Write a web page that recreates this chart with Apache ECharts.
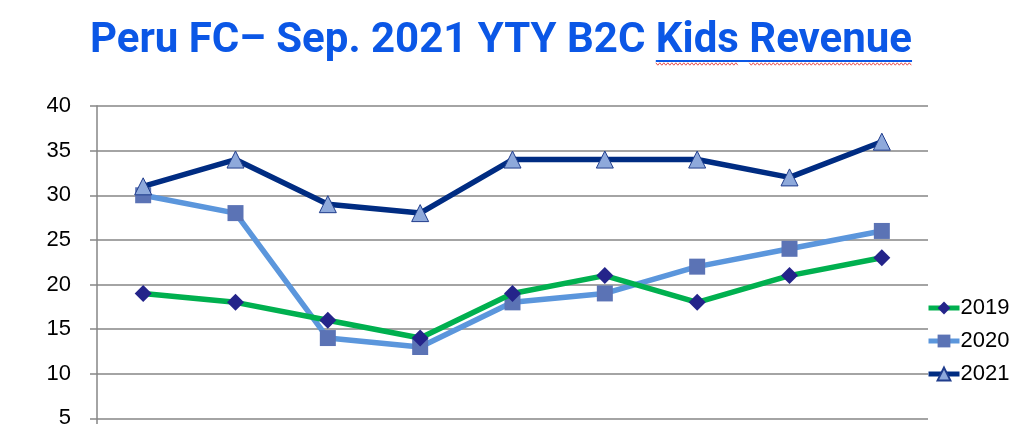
<!DOCTYPE html>
<html><head><meta charset="utf-8">
<script src="https://cdn.jsdelivr.net/npm/echarts@6/dist/echarts.min.js"></script>
<style>html,body{margin:0;padding:0;overflow:hidden;background:#fff;width:1023px;height:424px}#c{width:1023px;height:500px}</style>
</head><body><div id="c"></div>
<script>
var categories = ['Jan','Feb','Mar','Apr','May','Jun','Jul','Aug','Sep'];
var s2019 = [19, 18, 16, 14, 19, 21, 18, 21, 23];
var s2020 = [30, 28, 14, 13, 18, 19, 22, 24, 26];
var s2021 = [31, 34, 29, 28, 34, 34, 34, 32, 36];
var titlePrefix = 'Peru FC\u2013 Sep. 2021 YTY B2C ';
var titleWords = ['Kids', 'Revenue'];
var titleText = titlePrefix + titleWords.join(' ');

var titleFont = 'bold 42px Roboto';
var cv = document.createElement('canvas').getContext('2d');
cv.font = titleFont;
var fullW = cv.measureText(titleText).width;
var x0 = 501 - fullW / 2;
var kStart = x0 + cv.measureText(titlePrefix).width;
var kEnd = kStart + cv.measureText(titleWords[0]).width;
var rStart = x0 + cv.measureText(titlePrefix + titleWords[0] + ' ').width;
var xEnd = x0 + fullW;
var ulY = 61;
function wavy(a, b, y) {
  var pts = [], i = 0;
  for (var x = a; x <= b; x += 2) { pts.push([x, y + (i % 2 ? 1.2 : -1.2)]); i++; }
  return pts;
}

var chart = echarts.init(document.getElementById('c'), null, {renderer:'canvas'});
chart.setOption({
  animation:false,
  backgroundColor:'#fff',
  graphic:[
    {type:'text',left:x0,top:20,style:{text:titleText,font:titleFont,fill:'#0b57e6'}},
    {type:'line',shape:{x1:kStart,y1:ulY,x2:xEnd,y2:ulY},style:{stroke:'#0b57e6',lineWidth:2}},
    {type:'polyline',shape:{points:wavy(kStart,kEnd,ulY+3)},style:{stroke:'#e02020',lineWidth:0.8,fill:null}},
    {type:'polyline',shape:{points:wavy(rStart,xEnd,ulY+3)},style:{stroke:'#e02020',lineWidth:0.8,fill:null}}
  ],
  grid:{left:97,right:95,top:106,bottom:37},
  legend:{orient:'vertical',left:926,top:297,padding:0,itemWidth:31,itemHeight:16,itemGap:11,
    lineStyle:{width:5},
    textStyle:{fontFamily:'Liberation Sans, Arial, sans-serif',fontSize:22,color:'#000',lineHeight:22,padding:[0,0,0,-4]},
    data:['2019','2020','2021']},
  xAxis:{type:'category',data:categories,boundaryGap:true,
    axisLine:{show:true,lineStyle:{color:'#868686',width:1.5}},axisTick:{show:false},axisLabel:{show:false},splitLine:{show:false}},
  yAxis:{type:'value',min:0,max:40,interval:5,
    axisLine:{show:true,lineStyle:{color:'#868686',width:1.5}},
    axisTick:{show:true,length:7,lineStyle:{color:'#868686',width:1.5}},
    axisLabel:{fontFamily:'Liberation Sans, Arial, sans-serif',fontSize:22,color:'#000',margin:26},
    splitLine:{show:true,lineStyle:{color:'#868686',width:1.5}}},
  series:[
    {name:'2019',type:'line',data:s2019,symbol:'diamond',symbolSize:17,
      lineStyle:{color:'#00b04f',width:5.5},itemStyle:{color:'#24248a',borderColor:'#24248a',borderWidth:0},
      z:3},
    {name:'2020',type:'line',data:s2020,symbol:'rect',symbolSize:16,
      lineStyle:{color:'#5b96dc',width:5.5},itemStyle:{color:'#5b73b5',borderWidth:0},
      z:2},
    {name:'2021',type:'line',data:s2021,symbol:'triangle',symbolSize:17,
      lineStyle:{color:'#002c82',width:5.5},itemStyle:{color:'#8ea9db',borderColor:'#1f3c8c',borderWidth:1},
      z:4}
  ]
});
</script></body></html>
